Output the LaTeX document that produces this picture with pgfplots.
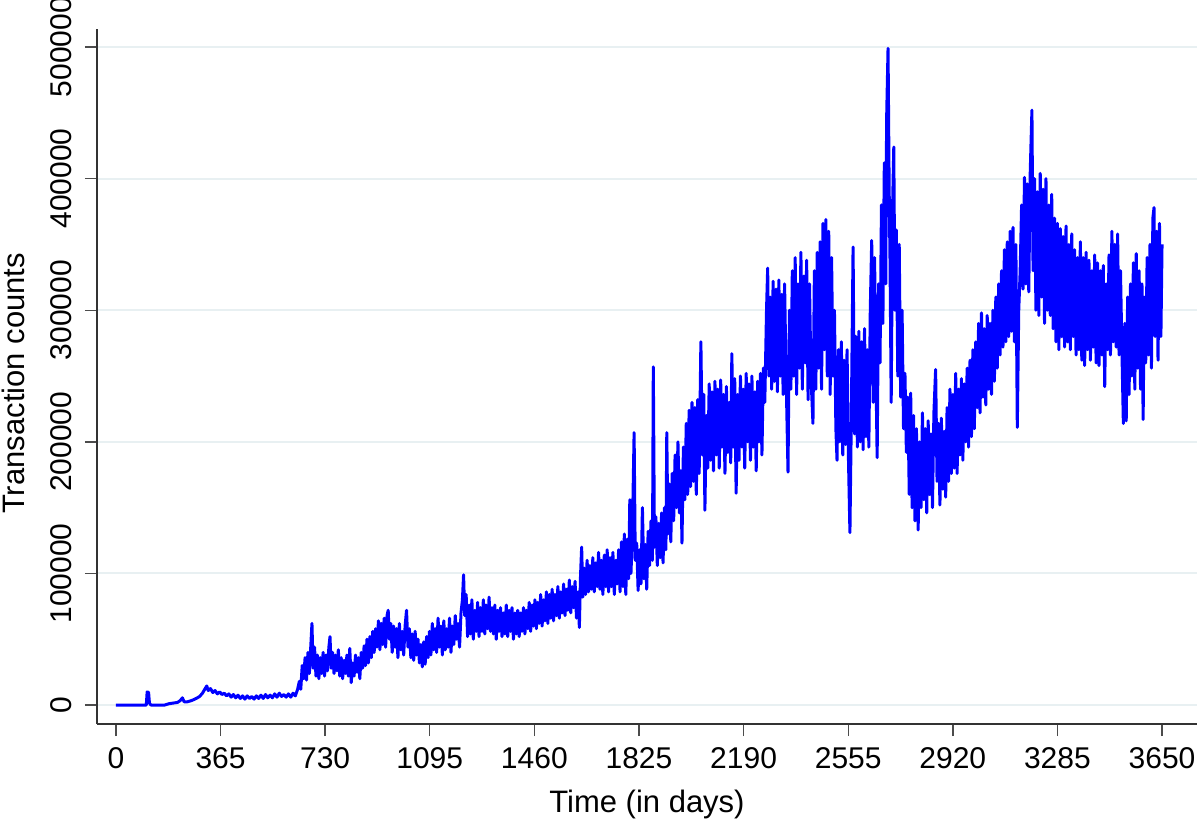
\documentclass[border=0pt]{standalone}
\usepackage{fontspec}
\setmainfont{Liberation Sans}
\usepackage{pgfplots}
\usepackage{pgfplotstable}
\pgfplotsset{compat=1.18}
\definecolor{gridc}{RGB}{232,240,242}
\pgfplotstableread{
d y
0 0
50 0
100 0
106 0
109 10000
114 9500
117 1500
122 0
170 0
185 1000
200 1500
215 2000
225 3500
232 5500
238 2500
250 2500
265 3500
280 5000
292 6500
302 9000
310 12000
317 14500
322 11000
330 12500
338 9500
346 11000
354 8500
362 10000
370 8000
378 9000
386 7000
394 8500
402 6000
410 8000
418 5500
426 7500
434 5000
442 7000
450 4500
458 7000
466 5000
474 6500
482 4500
490 7000
498 5000
506 7500
514 5000
522 8000
530 5500
538 7500
546 5500
554 8500
562 6000
570 9000
578 6500
586 8000
594 6000
602 8500
610 6000
618 9000
626 7000
634 12000
640 18000
645 12000
650 30000
655 20000
660 36000
665 19000
670 40000
675 24000
680 45000
684 62000
688 28000
693 44000
698 22000
703 38000
708 20000
713 36000
718 24000
723 40000
728 22000
733 38000
738 26000
743 44000
747 52000
751 28000
756 40000
761 24000
766 38000
771 26000
776 42000
781 22000
786 36000
791 20000
796 34000
801 24000
806 38000
811 22000
816 43000
821 17000
826 32000
831 22000
836 38000
841 25000
846 36000
851 20000
856 40000
861 28000
866 45000
871 30000
876 50000
881 32000
886 52000
891 36000
896 56000
901 40000
906 58000
911 44000
916 64000
921 42000
926 62000
931 46000
936 66000
941 44000
946 68000
950 72000
954 50000
959 62000
964 40000
969 60000
974 44000
979 58000
984 36000
989 62000
994 42000
999 56000
1004 38000
1009 60000
1014 72000
1019 44000
1024 58000
1029 36000
1034 54000
1039 34000
1044 56000
1049 38000
1054 50000
1059 32000
1064 46000
1069 29000
1074 48000
1079 31000
1084 52000
1089 36000
1094 56000
1099 38000
1104 62000
1109 42000
1114 58000
1119 40000
1124 66000
1129 44000
1134 60000
1139 38000
1144 64000
1149 42000
1154 58000
1159 44000
1164 66000
1169 40000
1174 60000
1179 46000
1184 68000
1189 50000
1194 62000
1199 44000
1204 70000
1209 80000
1213 99000
1217 68000
1222 84000
1227 52000
1232 76000
1237 54000
1242 80000
1247 50000
1252 72000
1257 56000
1262 78000
1267 52000
1272 74000
1277 56000
1282 80000
1287 54000
1292 76000
1297 58000
1302 82000
1307 56000
1312 74000
1317 54000
1322 76000
1327 50000
1332 72000
1337 56000
1342 74000
1347 52000
1352 70000
1357 54000
1362 76000
1367 52000
1372 72000
1377 56000
1382 74000
1387 50000
1392 70000
1397 54000
1402 72000
1407 52000
1412 70000
1417 56000
1422 74000
1427 54000
1432 72000
1437 58000
1442 78000
1447 56000
1452 76000
1457 60000
1462 80000
1467 58000
1472 78000
1477 62000
1482 84000
1487 60000
1492 80000
1497 64000
1502 86000
1507 62000
1512 84000
1517 66000
1522 88000
1527 64000
1532 84000
1537 68000
1542 90000
1547 66000
1552 86000
1557 70000
1562 92000
1567 68000
1572 88000
1577 72000
1582 95000
1587 70000
1592 90000
1597 74000
1602 94000
1607 66000
1612 86000
1617 59000
1621 98000
1625 120000
1629 82000
1634 104000
1639 84000
1644 110000
1649 86000
1654 106000
1659 88000
1664 112000
1669 86000
1674 108000
1679 90000
1684 116000
1689 88000
1694 110000
1699 84000
1704 114000
1709 90000
1714 118000
1719 86000
1724 112000
1729 90000
1734 116000
1739 84000
1744 110000
1749 92000
1754 118000
1759 86000
1764 124000
1769 90000
1774 130000
1779 84000
1784 126000
1789 96000
1793 156000
1797 100000
1802 130000
1808 207000
1812 110000
1817 123000
1822 87000
1827 118000
1832 92000
1837 150000
1842 96000
1847 122000
1852 88000
1857 132000
1862 106000
1867 140000
1872 110000
1875 257000
1879 120000
1884 143000
1889 106000
1894 138000
1899 112000
1904 146000
1909 108000
1914 150000
1919 118000
1922 207000
1926 130000
1931 168000
1936 124000
1941 176000
1946 140000
1951 190000
1956 150000
1961 200000
1966 146000
1971 178000
1975 123000
1980 196000
1985 156000
1990 214000
1995 160000
2000 224000
2005 166000
2010 230000
2015 170000
2020 226000
2025 160000
2030 232000
2035 176000
2041 276000
2046 190000
2051 236000
2055 148000
2060 220000
2065 180000
2070 244000
2075 186000
2080 238000
2085 178000
2090 246000
2095 190000
2100 240000
2105 180000
2110 247000
2115 196000
2120 236000
2125 176000
2130 242000
2135 192000
2140 230000
2145 184000
2149 267000
2154 196000
2159 248000
2164 161000
2169 236000
2174 186000
2179 250000
2184 196000
2189 240000
2194 180000
2199 252000
2204 200000
2209 244000
2214 186000
2219 250000
2224 196000
2229 238000
2234 178000
2239 246000
2244 200000
2249 252000
2254 190000
2259 256000
2264 230000
2270 300000
2274 332000
2278 250000
2283 310000
2288 240000
2293 322000
2298 246000
2303 316000
2308 238000
2313 323000
2318 250000
2323 312000
2328 236000
2333 320000
2338 254000
2345 177000
2350 300000
2355 240000
2360 330000
2365 250000
2370 340000
2375 236000
2380 320000
2385 256000
2390 344000
2395 240000
2400 326000
2405 260000
2410 338000
2415 232000
2420 320000
2425 250000
2432 214000
2437 330000
2442 240000
2447 344000
2452 256000
2457 352000
2462 240000
2467 366000
2472 270000
2477 369000
2482 250000
2487 360000
2492 236000
2497 340000
2502 250000
2507 300000
2512 210000
2516 186000
2521 270000
2526 200000
2531 276000
2536 190000
2541 262000
2546 198000
2551 270000
2556 186000
2561 131000
2566 220000
2572 348000
2577 206000
2582 280000
2587 196000
2592 284000
2597 200000
2602 276000
2607 194000
2612 286000
2617 204000
2622 270000
2627 196000
2632 300000
2637 353000
2642 230000
2647 340000
2652 250000
2656 188000
2661 320000
2666 260000
2671 380000
2676 290000
2681 412000
2686 320000
2689 445000
2694 499000
2698 390000
2701 336000
2705 230000
2710 380000
2714 424000
2718 300000
2723 361000
2728 250000
2733 350000
2738 234000
2743 300000
2748 210000
2753 252000
2758 192000
2763 234000
2768 160000
2773 237000
2778 150000
2783 220000
2788 140000
2793 210000
2799 133000
2804 200000
2809 150000
2814 222000
2819 156000
2824 210000
2829 146000
2834 216000
2839 160000
2844 206000
2849 150000
2854 222000
2860 255000
2865 170000
2870 214000
2875 152000
2880 218000
2885 164000
2890 208000
2895 158000
2900 226000
2905 170000
2910 240000
2915 176000
2920 236000
2925 180000
2930 252000
2935 176000
2940 240000
2945 190000
2950 248000
2955 186000
2960 244000
2965 200000
2970 256000
2975 196000
2980 262000
2985 204000
2990 270000
2995 210000
3000 276000
3005 226000
3010 290000
3015 222000
3020 298000
3025 234000
3030 286000
3035 228000
3040 296000
3045 240000
3050 290000
3055 236000
3060 300000
3065 246000
3070 310000
3075 256000
3080 320000
3085 266000
3090 330000
3095 272000
3100 346000
3105 276000
3110 352000
3115 280000
3120 360000
3125 284000
3130 363000
3135 276000
3140 350000
3145 211000
3150 300000
3155 330000
3160 380000
3165 316000
3170 401000
3175 320000
3180 396000
3185 314000
3190 404000
3196 452000
3200 330000
3205 400000
3210 300000
3215 390000
3220 296000
3225 404000
3230 310000
3235 392000
3240 290000
3245 400000
3250 300000
3255 380000
3260 296000
3265 388000
3270 286000
3275 370000
3280 276000
3285 366000
3290 270000
3295 362000
3300 280000
3305 356000
3310 272000
3315 364000
3320 276000
3325 350000
3330 270000
3335 358000
3340 280000
3345 346000
3350 266000
3355 340000
3360 270000
3365 352000
3370 262000
3375 340000
3380 258000
3385 344000
3390 270000
3395 338000
3400 262000
3405 330000
3410 272000
3415 342000
3420 260000
3425 336000
3430 258000
3435 330000
3440 266000
3445 334000
3450 242000
3455 320000
3460 270000
3465 342000
3470 266000
3475 360000
3480 276000
3485 350000
3490 272000
3495 358000
3500 266000
3505 330000
3510 270000
3515 214000
3520 290000
3525 216000
3530 310000
3535 236000
3540 320000
3545 250000
3550 336000
3555 240000
3560 343000
3565 256000
3570 330000
3575 240000
3580 320000
3584 217000
3588 310000
3593 260000
3598 340000
3603 266000
3608 350000
3613 256000
3618 370000
3622 378000
3626 280000
3631 360000
3636 262000
3641 366000
3646 280000
3650 350000
}\txdata
\begin{document}
\begin{tikzpicture}
\path[use as bounding box] (-48.5bp,-48.5bp) rectangle (551.5bp,362bp);
\begin{axis}[
  scale only axis,
  width=550bp, height=347.5bp,
  xmin=-66, xmax=3772,
  ymin=-14400, ymax=513700,
  axis lines=left,
  axis line style={-, black!80, line width=0.8bp},
  tick align=outside,
  major tick length=6bp,
  tick style={black!70, line width=0.7bp},
  xtick={0,365,...,3650},
  ytick={0,100000,200000,300000,400000,500000},
  scaled y ticks=false,
  yticklabel style={rotate=90, anchor=south, inner sep=6.5bp},
  xticklabel style={inner sep=5.5bp},
  /pgf/number format/assume math mode=true,
  /pgf/number format/fixed,
  /pgf/number format/1000 sep={},
  ticklabel style={font=\fontsize{15bp}{18bp}\selectfont},
  label style={font=\fontsize{15.5bp}{18bp}\selectfont},
  ymajorgrids,
  grid style={gridc, line width=1bp},
  xlabel={Time (in days)},
  ylabel={Transaction counts},
  xlabel style={at={(axis description cs:0.5,0)}, anchor=base, yshift=-44bp},
  ylabel style={at={(axis description cs:-0.0655,0.49)}, anchor=base},
]
\addplot[color={rgb,255:red,0;green,0;blue,255}, line width=1.5bp, line join=round, mark=none] table[x=d,y=y] {\txdata};
\end{axis}
\end{tikzpicture}
\end{document}
